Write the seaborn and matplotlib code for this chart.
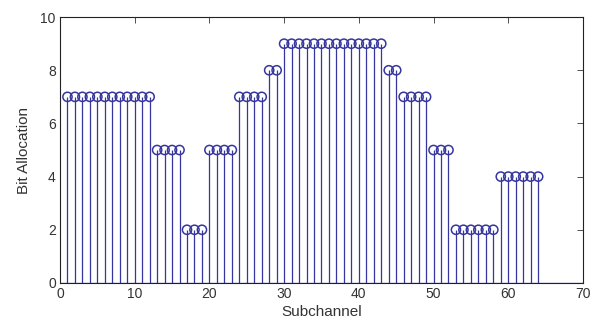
import numpy as np
import pandas as pd
import matplotlib
matplotlib.use("Agg")
import matplotlib.pyplot as plt
import seaborn as sns

# bits allocated per subchannel
subchannels = list(range(1, 65))
bits = ([7] * 12 + [5] * 4 + [2] * 3 + [5] * 4 + [7] * 4 + [8] * 2 + [9] * 14
        + [8] * 2 + [7] * 4 + [5] * 3 + [2] * 6 + [4] * 6)
x_ticks = [0, 10, 20, 30, 40, 50, 60, 70]
y_ticks = [0, 2, 4, 6, 8, 10]

df = pd.DataFrame({"Subchannel": subchannels, "Bits": bits})

sns.set_style("white")
plt.rcParams["font.family"] = ["Liberation Sans", "DejaVu Sans"]

fig = plt.figure(figsize=(6.06, 3.29), dpi=100)
ax = fig.add_axes([0.099, 0.14, 0.863, 0.808])

stem_color = "#36369e"
ax.vlines(df["Subchannel"], 0, df["Bits"], color=stem_color, linewidth=0.9)
sns.scatterplot(data=df, x="Subchannel", y="Bits", ax=ax, marker="o", s=44,
                facecolor="none", edgecolor=stem_color, linewidth=1.1, zorder=3)
ax.axhline(0, color=stem_color, linewidth=0.9)

ax.set_xlim(0, 70)
ax.set_ylim(0, 10)
ax.set_xticks(x_ticks)
ax.set_yticks(y_ticks)
ax.tick_params(direction="in", top=True, right=True, length=4, width=0.6,
               labelsize=10, colors="#333333", labelcolor="#333333", pad=3)
for s in ax.spines.values():
    s.set_color("#222222")
    s.set_linewidth(0.8)

ax.set_xlabel("Subchannel", fontsize=11, color="#333333", labelpad=3)
ax.set_ylabel("Bit Allocation", fontsize=11, color="#333333", labelpad=7)

fig.savefig("out.png", dpi=100, facecolor="white")
